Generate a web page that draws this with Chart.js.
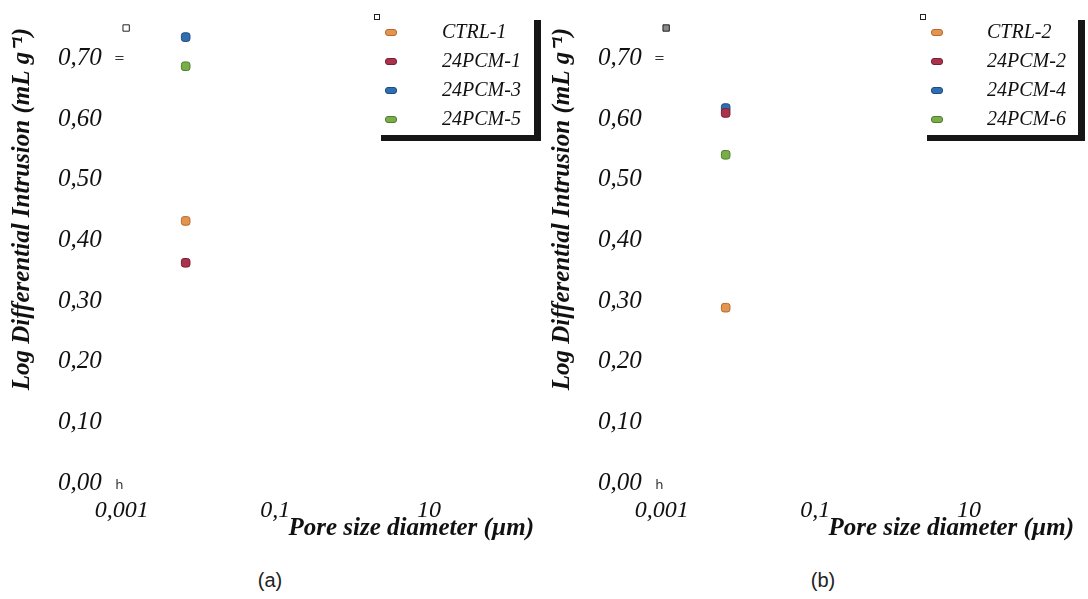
<!DOCTYPE html>
<html><head><meta charset="utf-8">
<script src="https://cdn.jsdelivr.net/npm/chart.js@4"></script>
<style>
html,body{margin:0;padding:0;background:#fff;width:1088px;height:599px;overflow:hidden;}
.panel{position:absolute;top:0;width:540px;height:555px;}
.legend{position:absolute;top:14px;height:121px;background:#fff;box-shadow:7px 6px 0 #161616;font:italic 20px "Liberation Serif";color:#111;}
.legend .row{position:absolute;left:0;height:29px;line-height:29px;white-space:nowrap;width:100%;}
.legend .sw{position:absolute;left:11px;top:12px;width:10px;height:5px;border-radius:3px;}
.legend .tx{position:absolute;}
.legend .corner{position:absolute;left:0;top:0;width:4px;height:4px;border:1px solid #222;background:#fff;}
.cap{position:absolute;top:569px;width:60px;text-align:center;line-height:24px;font:20px "Liberation Sans";color:#222;}
</style></head>
<body>
<div class="panel" style="left:0"><canvas id="ca" width="540" height="555"></canvas></div>
<div class="panel" style="left:540px"><canvas id="cb" width="540" height="555"></canvas></div>
<div class="legend" id="la" style="left:374px;width:160px"></div>
<div class="legend" id="lb" style="left:920px;width:158px"></div>
<div class="cap" style="left:240px">(a)</div>
<div class="cap" style="left:793px">(b)</div>
<script>
// ---- data ----
const xTickValues = [0.001, 0.1, 10];
const yTickValues = [0, 0.1, 0.2, 0.3, 0.4, 0.5, 0.6, 0.7];
const seriesColors = ['#e3944f', '#a8334b', '#2f6fb0', '#79ad4a'];
const seriesBorders = ['#b86a2c', '#7a1f33', '#1f4c80', '#4f7f2c'];
const labelsA = ['CTRL-1', '24PCM-1', '24PCM-3', '24PCM-5'];
const labelsB = ['CTRL-2', '24PCM-2', '24PCM-4', '24PCM-6'];
const poreA = [0.0068, 0.0068, 0.0068, 0.0068];
const intrusionA = [0.432, 0.363, 0.735, 0.687];
const poreB = [0.0068, 0.0068, 0.0068, 0.0068];
const intrusionB = [0.289, 0.610, 0.618, 0.541];
const cornerPore = [0.00114];
const cornerIntrusion = [0.75];
const glyphPore = [0.00093, 0.00093];
const glyphIntrusion = [0.70, 0.0];
const glyphText = ['=', 'h'];
const xTitle = 'Pore size diameter (µm)';
const yTitle = 'Log Differential Intrusion (mL g⁻¹)';

const glyphPlugin = {
  id: 'glyphs',
  afterDatasetsDraw(chart) {
    const {ctx, scales: {x, y}} = chart;
    ctx.save();
    ctx.fillStyle = '#333';
    ctx.font = '13px "DejaVu Sans"';
    ctx.textAlign = 'center';
    ctx.textBaseline = 'middle';
    glyphText.forEach((t, i) => {
      ctx.fillText(t, x.getPixelForValue(glyphPore[i]), y.getPixelForValue(glyphIntrusion[i]) + (i === 1 ? 3 : 0));
    });
    ctx.restore();
  }
};

function serif(size, bold) {
  return {family: '"Liberation Serif", "Times New Roman", serif', style: 'italic', weight: bold ? 'bold' : 'normal', size: size, lineHeight: 1.2};
}

function makeChart(id, labels, pores, values, cornerFill) {
  const datasets = labels.map((lab, i) => ({
    label: lab,
    data: [{x: pores[i], y: values[i]}],
    pointStyle: 'rectRounded',
    pointRadius: 5,
    backgroundColor: seriesColors[i],
    borderColor: seriesBorders[i],
    borderWidth: 1,
    showLine: false,
    clip: false
  }));
  datasets.push({
    label: '',
    data: cornerPore.map((p, i) => ({x: p, y: cornerIntrusion[i]})),
    pointStyle: 'rect',
    pointRadius: 4.5,
    backgroundColor: cornerFill,
    borderColor: '#222',
    borderWidth: 1,
    clip: false
  });
  return new Chart(document.getElementById(id), {
    type: 'scatter',
    data: {datasets},
    options: {
      responsive: false,
      animation: false,
      events: [],
      layout: {padding: {top: 27, right: 3, left: 0, bottom: 0}},
      plugins: {legend: {display: false}, tooltip: {enabled: false}},
      scales: {
        x: {
          type: 'logarithmic', min: 1e-4, max: 234,
          grid: {display: false, drawTicks: false},
          border: {display: false},
          afterBuildTicks: s => { s.ticks = xTickValues.map(v => ({value: v})); },
          afterFit: s => { s.height = 72; },
          ticks: {autoSkip: false, maxRotation: 0, padding: 13, color: '#111', font: serif(24, false),
                  callback: v => String(v).replace('.', ',')},
          title: {display: true, text: xTitle, align: 'end', color: '#111', font: serif(25, true), padding: {top: 0, bottom: 11}}
        },
        y: {
          min: 0, max: 0.75,
          grid: {display: false, drawTicks: false},
          border: {display: false},
          afterBuildTicks: s => { s.ticks = yTickValues.map(v => ({value: v})); },
          afterFit: s => { s.width = 45; },
          ticks: {mirror: true, padding: 13, color: '#111', font: serif(25, false),
                  callback: v => Number(v).toFixed(2).replace('.', ',')},
          title: {display: true, text: yTitle, align: 'end', color: '#111', font: serif(25, true), padding: {top: 8, bottom: 0}}
        }
      }
    },
    plugins: [glyphPlugin]
  });
}

function makeLegend(id, labels, textLeft) {
  const box = document.getElementById(id);
  const c = document.createElement('div'); c.className = 'corner'; box.appendChild(c);
  labels.forEach((lab, i) => {
    const row = document.createElement('div');
    row.className = 'row';
    row.style.top = (2.5 + 29 * i) + 'px';
    const sw = document.createElement('div'); sw.className = 'sw';
    sw.style.background = seriesColors[i];
    sw.style.border = '1px solid ' + seriesBorders[i];
    const tx = document.createElement('div'); tx.className = 'tx';
    tx.style.left = textLeft + 'px';
    tx.textContent = lab;
    row.appendChild(sw); row.appendChild(tx);
    box.appendChild(row);
  });
}

makeChart('ca', labelsA, poreA, intrusionA, '#ffffff');
makeChart('cb', labelsB, poreB, intrusionB, '#8a8a8a');
makeLegend('la', labelsA, 68);
makeLegend('lb', labelsB, 67);
</script>
</body></html>
